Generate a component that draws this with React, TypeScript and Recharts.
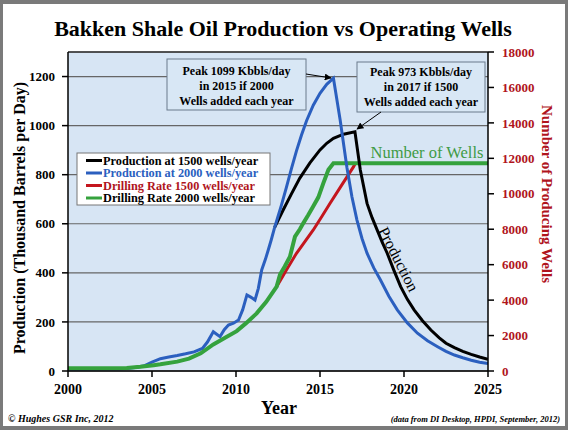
import { LineChart, Line, XAxis, YAxis, CartesianGrid, ReferenceLine } from "recharts";

const FONT = '"Liberation Serif", "Times New Roman", serif';
const BLUE = "#2b5fbf";
const RED = "#c4161e";
const GREEN = "#35a23d";
const DARKRED = "#b0141c";

// axis ticks
const yearTicks = [2000, 2005, 2010, 2015, 2020, 2025];
const prodTicks = [0, 200, 400, 600, 800, 1000, 1200];
const wellTicks = [0, 2000, 4000, 6000, 8000, 10000, 12000, 14000, 16000, 18000];

// historical production (kbbl/day)
const histYears = [2000, 2001, 2002, 2003, 2003.5, 2004, 2004.5, 2005, 2005.5, 2006, 2006.5, 2007, 2007.5, 2008, 2008.3, 2008.65, 2008.85, 2009.05, 2009.3, 2009.55, 2009.85, 2010.15, 2010.4, 2010.65, 2010.9, 2011.13, 2011.33, 2011.53, 2011.75, 2011.92, 2012.1, 2012.3];
const histProd = [8, 8, 9, 9, 10, 14, 20, 36, 50, 57, 63, 70, 78, 92, 118, 160, 150, 140, 168, 187, 195, 208, 250, 310, 300, 289, 337, 412, 455, 493, 535, 585];

// projection, 2000 wells per year
const years2000 = [2012.3, 2012.7, 2013.0, 2013.3, 2013.6, 2013.9, 2014.2, 2014.6, 2015.0, 2015.4, 2015.8, 2016.2, 2016.6, 2016.9, 2017.2, 2017.5, 2017.8, 2018.2, 2018.6, 2019.1, 2019.6, 2020.2, 2020.8, 2021.4, 2022.0, 2022.5, 2023.0, 2023.5, 2024.0, 2024.5, 2025.0];
const prod2000 = [585, 675, 748, 825, 897, 962, 1020, 1083, 1132, 1168, 1193, 1023, 830, 710, 615, 540, 480, 420, 371, 305, 249, 196, 154, 123, 99, 80, 65, 54, 44, 36, 30];

// projection, 1500 wells per year
const years1500 = [2012.3, 2012.8, 2013.3, 2013.8, 2014.4, 2015.0, 2015.4, 2015.8, 2016.4, 2017.08, 2017.4, 2017.8, 2018.1, 2018.4, 2018.7, 2019.0, 2019.4, 2019.8, 2020.2, 2020.6, 2021.1, 2021.6, 2022.1, 2022.5, 2023.0, 2023.5, 2024.0, 2024.5, 2025.0];
const prod1500 = [585, 655, 722, 786, 848, 901, 928, 948, 965, 975, 819, 683, 625, 575, 525, 480, 410, 344, 292, 249, 205, 167, 135, 113, 95, 80, 68, 57, 48];

// producing wells, 2000 per year
const wellYears2000 = [2000, 2002, 2003.5, 2004.3, 2005.1, 2005.5, 2006.5, 2007.2, 2007.9, 2008.65, 2009.4, 2010.04, 2010.6, 2011.23, 2011.8, 2012.42, 2012.62, 2012.9, 2013.21, 2013.51, 2013.8, 2014.0, 2014.3, 2014.6, 2014.9, 2015.2, 2015.5, 2015.8, 2025];
const wells2000 = [150, 150, 170, 240, 330, 380, 530, 700, 1000, 1500, 1900, 2250, 2700, 3250, 3900, 4760, 5450, 5900, 6450, 7580, 8000, 8330, 8800, 9300, 9800, 10600, 11350, 11720, 11720];

// producing wells, 1500 per year
const wellYears1500 = [2012.42, 2013.0, 2013.6, 2014.1, 2014.6, 2015.1, 2015.6, 2016.3, 2017.0, 2017.1];
const wells1500 = [4760, 5700, 6640, 7300, 7957, 8700, 9463, 10500, 11530, 11720];

const legendItems = [
    { label: "Production at 1500 wells/year", line: "#000", text: "#000" },
    { label: "Production at 2000 wells/year", line: BLUE, text: BLUE },
    { label: "Drilling Rate 1500 wells/year", line: RED, text: DARKRED },
    { label: "Drilling Rate 2000 wells/year", line: GREEN, text: "#000" },
];

const toPoints = (xs: number[], ys: number[]) => xs.map((x, i) => ({ year: x, value: ys[i] }));

const App = () => {
    const bold = { fontFamily: FONT, fontWeight: "bold" as const };
    return (
        <div style={{ position: "absolute", left: 0, top: 0, width: 568, height: 430, background: "#fff" }}>
            <LineChart width={568} height={430} margin={{ top: 52, right: 20, bottom: 29, left: 0 }}>
                <CartesianGrid yAxisId="left" vertical={false} stroke="#666" strokeWidth={1.2} fill="#d7e5f4" fillOpacity={1} />
                <XAxis
                    type="number"
                    dataKey="year"
                    domain={[2000, 2025]}
                    ticks={yearTicks}
                    allowDataOverflow
                    height={30}
                    stroke="#000"
                    strokeWidth={1.5}
                    tickMargin={7}
                    tick={{ fill: "#000", fontSize: 14, ...bold }}
                />
                <YAxis
                    yAxisId="left"
                    domain={[0, 1300]}
                    ticks={prodTicks}
                    width={68}
                    stroke="#000"
                    strokeWidth={1.5}
                    tickMargin={7}
                    tick={{ fill: "#000", fontSize: 13, ...bold }}
                />
                <YAxis
                    yAxisId="right"
                    orientation="right"
                    domain={[0, 18000]}
                    ticks={wellTicks}
                    width={60}
                    stroke="#000"
                    strokeWidth={1.5}
                    tickMargin={8}
                    tick={{ fill: DARKRED, fontSize: 13, textAnchor: "start", ...bold }}
                />
                <ReferenceLine yAxisId="left" y={1300} stroke="#333" strokeWidth={1.5} />
                <Line data={toPoints(histYears, histProd)} dataKey="value" yAxisId="left" type="linear" stroke={BLUE} strokeWidth={3} dot={false} isAnimationActive={false} />
                <Line data={toPoints(wellYears1500, wells1500)} dataKey="value" yAxisId="right" type="linear" stroke={RED} strokeWidth={3} dot={false} isAnimationActive={false} />
                <Line data={toPoints(wellYears2000, wells2000)} dataKey="value" yAxisId="right" type="linear" stroke={GREEN} strokeWidth={4} dot={false} isAnimationActive={false} />
                <Line data={toPoints(years1500, prod1500)} dataKey="value" yAxisId="left" type="linear" stroke="#000" strokeWidth={3} dot={false} isAnimationActive={false} />
                <Line data={toPoints(years2000, prod2000)} dataKey="value" yAxisId="left" type="linear" stroke={BLUE} strokeWidth={3} dot={false} isAnimationActive={false} />
            </LineChart>

            <svg width={568} height={430} style={{ position: "absolute", left: 0, top: 0, pointerEvents: "none" }}>
                <defs>
                    <marker id="arrow" viewBox="0 0 10 10" refX="9" refY="5" markerWidth="7" markerHeight="7" orient="auto">
                        <path d="M0,0 L10,5 L0,10 z" fill="#000" />
                    </marker>
                </defs>
                <text x={283} y={36} textAnchor="middle" fontSize={22} {...bold} fill="#000">
                    Bakken Shale Oil Production vs Operating Wells
                </text>

                {/* axis titles */}
                <text x={0} y={0} transform="translate(25,218) rotate(-90)" textAnchor="middle" fontSize={16} {...bold} fill="#000">
                    Production (Thousand Barrels per Day)
                </text>
                <text x={0} y={0} transform="translate(542,194) rotate(90)" textAnchor="middle" fontSize={15} {...bold} fill={DARKRED}>
                    Number of Producing Wells
                </text>
                <text x={279} y={414} textAnchor="middle" fontSize={18} {...bold} fill="#000">Year</text>

                {/* legend */}
                <rect x={77} y={153} width={193} height={52} fill="#fff" stroke="#777" />
                {legendItems.map((item, i) => (
                    <g key={item.label}>
                        <line x1={86} x2={102} y1={160.5 + i * 12.5} y2={160.5 + i * 12.5} stroke={item.line} strokeWidth={3} />
                        <text x={103} y={164.5 + i * 12.5} fontSize={12.3} {...bold} fill={item.text}>{item.label}</text>
                    </g>
                ))}

                {/* peak notes */}
                <rect x={167} y={59} width={139} height={51} fill="#d8e7f5" stroke="#6b7b8b" />
                <text x={236.5} y={75} textAnchor="middle" fontSize={12} {...bold}>Peak 1099 Kbbls/day</text>
                <text x={236.5} y={90} textAnchor="middle" fontSize={12} {...bold}>in 2015 if 2000</text>
                <text x={236.5} y={105} textAnchor="middle" fontSize={12} {...bold}>Wells added each year</text>
                <line x1={306} y1={74} x2={331} y2={78} stroke="#000" strokeWidth={1} markerEnd="url(#arrow)" />

                <rect x={357} y={62} width={128} height={50} fill="#d8e7f5" stroke="#6b7b8b" />
                <text x={421} y={76} textAnchor="middle" fontSize={12} {...bold}>Peak 973 Kbbls/day</text>
                <text x={421} y={91} textAnchor="middle" fontSize={12} {...bold}>in 2017 if 1500</text>
                <text x={421} y={106} textAnchor="middle" fontSize={12} {...bold}>Wells added each year</text>
                <line x1={381} y1={112} x2={357} y2={129} stroke="#000" strokeWidth={1} markerEnd="url(#arrow)" />

                <text x={427} y={158} textAnchor="middle" fontSize={16.5} fontFamily={FONT} fill="#3f9b45">Number of Wells</text>
                <text x={0} y={0} transform="translate(397,260) rotate(63)" textAnchor="middle" dominantBaseline="middle" fontSize={16} fontFamily={FONT} fill="#000">
                    Production
                </text>

                {/* footer */}
                <text x={8} y={422} fontSize={10} fontStyle="italic" {...bold}>© Hughes GSR Inc, 2012</text>
                <text x={560} y={422} textAnchor="end" fontSize={8.5} fontStyle="italic" {...bold}>(data from DI Desktop, HPDI, September, 2012)</text>
            </svg>

            <div style={{ position: "absolute", left: 0, top: 0, width: 568, height: 430, boxSizing: "border-box", borderStyle: "solid", borderColor: "#7a7a7a", borderWidth: "4px 3px 4px 3px", pointerEvents: "none" }} />
        </div>
    );
};

export default App;
